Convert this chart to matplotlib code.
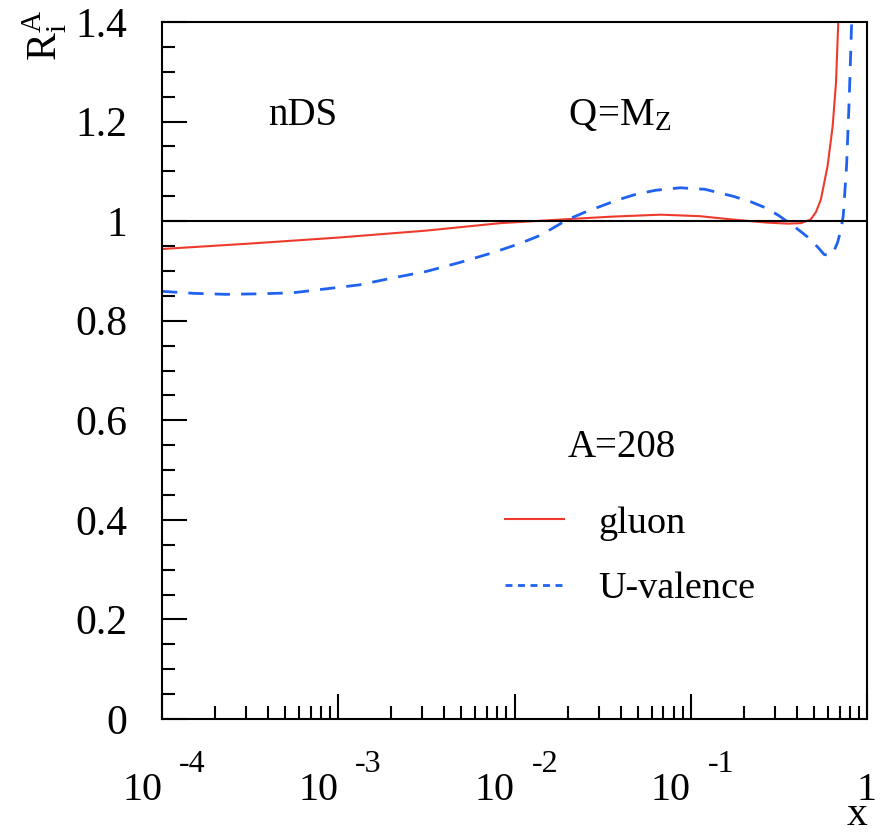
import numpy as np
import matplotlib
matplotlib.use("Agg")
import matplotlib.pyplot as plt
from matplotlib.ticker import MultipleLocator, LogLocator, NullFormatter
from matplotlib.lines import Line2D
from matplotlib.transforms import offset_copy

plt.rcParams['font.family'] = ['Liberation Serif', 'DejaVu Serif']
plt.rcParams['mathtext.fontset'] = 'custom'
plt.rcParams['mathtext.rm'] = 'Liberation Serif'
plt.rcParams['mathtext.it'] = 'Liberation Serif:italic'
plt.rcParams['mathtext.bf'] = 'Liberation Serif:bold'

# ---- data ----
gluon_logx = [-4.0, -3.5, -3.0, -2.5, -2.08, -1.70, -1.45, -1.17, -0.95, -0.755,
              -0.565, -0.45, -0.375, -0.32, -0.29, -0.262, -0.224, -0.195, -0.176,
              -0.163, -0.155]
gluon_y = [0.944, 0.955, 0.967, 0.981, 0.996, 1.004, 1.009, 1.013, 1.010, 1.003,
           0.997, 0.995, 0.996, 1.003, 1.018, 1.043, 1.110, 1.190, 1.278,
           1.400, 1.480]

uval_logx = [-4.0, -3.82, -3.64, -3.45, -3.26, -3.07, -2.88, -2.69, -2.50, -2.31,
             -2.12, -1.97, -1.85, -1.70, -1.60, -1.51, -1.42, -1.32, -1.20, -1.06,
             -0.92, -0.76, -0.66, -0.57, -0.50, -0.44, -0.39, -0.34, -0.28,
             -0.243, -0.21, -0.19, -0.167, -0.15, -0.135, -0.116, -0.101, -0.087, -0.08]
uval_y = [0.859, 0.855, 0.853, 0.854, 0.856, 0.864, 0.872, 0.886, 0.899, 0.917,
          0.937, 0.955, 0.972, 1.003, 1.018, 1.030, 1.042, 1.053, 1.062, 1.067,
          1.064, 1.050, 1.039, 1.026, 1.011, 0.996, 0.983, 0.969, 0.948,
          0.933, 0.931, 0.938, 0.957, 0.980, 1.010, 1.110, 1.244, 1.400, 1.470]

xtick_vals = [1e-4, 1e-3, 1e-2, 1e-1, 1.0]
xtick_labels = ['10', '10', '10', '10', '1']
xtick_exps = ['-4', '-3', '-2', '-1', '']
ytick_vals = [0, 0.2, 0.4, 0.6, 0.8, 1.0, 1.2, 1.4]
ytick_labels = ['0', '0.2', '0.4', '0.6', '0.8', '1', '1.2', '1.4']

series_labels = ['gluon', 'U-valence']

# ---- figure ----
W, H = 882, 836
fig = plt.figure(figsize=(W / 100, H / 100), dpi=100)
ax = fig.add_axes([162 / W, 1 - 719 / H, (867 - 162) / W, (719 - 22) / H])

red = '#ee3a2c'
blue = '#1f62f2'

ax.plot(10 ** np.array(gluon_logx), gluon_y, color=red, lw=1.5, solid_joinstyle='round')
ax.plot(10 ** np.array(uval_logx), uval_y, color=blue, lw=2.0,
        linestyle=(0, (5.5, 4.0)))
ax.axhline(1.0, color='black', lw=1.5)

ax.set_xscale('log')
ax.set_xlim(1e-4, 1.0)
ax.set_ylim(0, 1.4)

ax.set_xticks(xtick_vals)
ax.set_xticklabels(xtick_labels)
ax.xaxis.set_minor_locator(LogLocator(base=10, subs=np.arange(2, 10)))
ax.xaxis.set_minor_formatter(NullFormatter())

ax.set_yticks(ytick_vals)
ax.set_yticklabels(ytick_labels)
ax.yaxis.set_minor_locator(MultipleLocator(0.05))

ax.tick_params(axis='both', which='both', direction='in', top=False, right=False,
               width=1.5, color='black')
ax.tick_params(axis='both', which='major', length=18)
ax.tick_params(axis='both', which='minor', length=9.5)
ax.tick_params(axis='y', which='major', pad=25, labelsize=30)
ax.tick_params(axis='x', which='major', pad=58, labelsize=29)

for lbl, e in zip(ax.get_xticklabels(), xtick_exps):
    lbl.set_va('baseline')
    if e:
        lbl.set_ha('right')

# exponents of the x tick labels
exp_tr = offset_copy(ax.get_xaxis_transform(), fig=fig, x=17, y=-(772 - 719), units='dots')
for v, e in zip(xtick_vals, xtick_exps):
    if e:
        ax.text(v, 0, e, transform=exp_tr, fontsize=23, ha='left', va='baseline',
                clip_on=False)

for s in ax.spines.values():
    s.set_linewidth(1.5)

# annotations (pixel positions from top-left)
def ptext(px, py, s, **kw):
    fig.text(px / W, 1 - py / H, s, **kw)

ptext(268, 125, 'nDS', fontsize=28, ha='left', va='baseline')
ptext(568, 125, r'$\mathregular{Q\!=\!M_{Z}}$', fontsize=28, ha='left', va='baseline')
ptext(568, 457, 'A=208', fontsize=28, ha='left', va='baseline')

# legend
handles = [Line2D([], [], color=red, lw=1.5),
           Line2D([], [], color=blue, lw=2.0, linestyle=(0, (2.5, 2.0)))]
leg = ax.legend(handles, series_labels, loc='upper left',
                bbox_to_anchor=(505 / W, 1 - 506 / H), bbox_transform=fig.transFigure,
                frameon=False, fontsize=27.5, handlelength=1.55, handletextpad=0.9,
                labelspacing=0.8, borderaxespad=0, borderpad=0)

ptext(45, 10, r'$\mathregular{R^{A}_{i}}$', rotation=90, fontsize=30, ha='center', va='top')
ptext(867, 825, 'x', fontsize=30, ha='right', va='baseline')

fig.savefig('out.png', dpi=100)
